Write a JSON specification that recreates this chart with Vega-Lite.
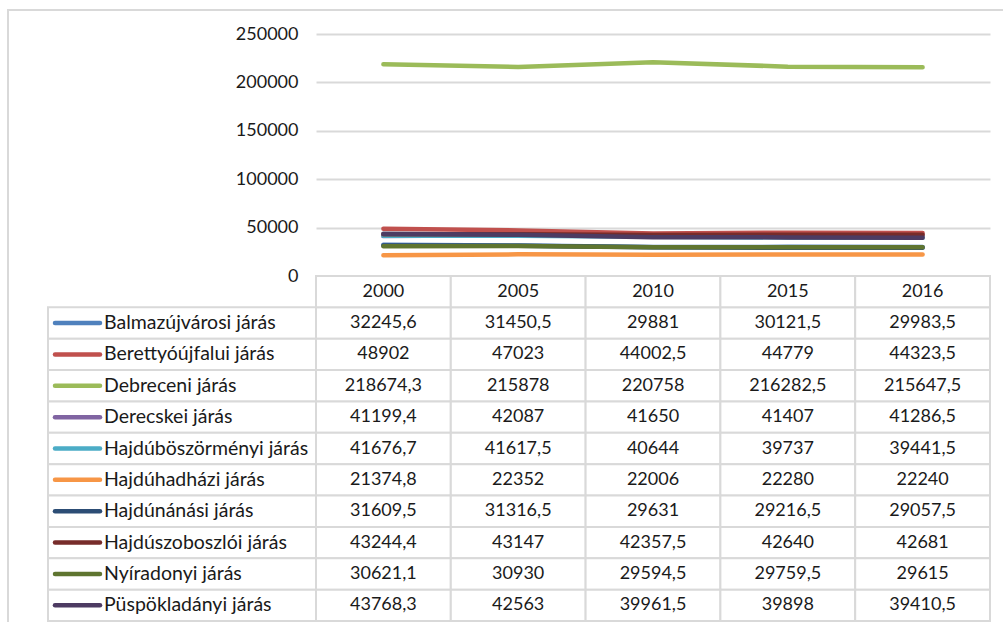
{
  "$schema": "https://vega.github.io/schema/vega-lite/v6.json",
  "background": "white",
  "padding": {"left": 7, "top": 9, "right": 0, "bottom": 0},
  "config": {
    "font": "Lato",
    "locale": {"number": {"decimal": ",", "thousands": "", "grouping": [3], "currency": ["", ""]}},
    "view": {"stroke": null},
    "text": {"fontSize": 18, "color": "#1a1a1a"}
  },
  "datasets": {
    "t": [
      {"district": "Balmazújvárosi járás", "year": "2000", "value": 32245.6},
      {"district": "Balmazújvárosi járás", "year": "2005", "value": 31450.5},
      {"district": "Balmazújvárosi járás", "year": "2010", "value": 29881},
      {"district": "Balmazújvárosi járás", "year": "2015", "value": 30121.5},
      {"district": "Balmazújvárosi járás", "year": "2016", "value": 29983.5},
      {"district": "Berettyóújfalui járás", "year": "2000", "value": 48902},
      {"district": "Berettyóújfalui járás", "year": "2005", "value": 47023},
      {"district": "Berettyóújfalui járás", "year": "2010", "value": 44002.5},
      {"district": "Berettyóújfalui járás", "year": "2015", "value": 44779},
      {"district": "Berettyóújfalui járás", "year": "2016", "value": 44323.5},
      {"district": "Debreceni járás", "year": "2000", "value": 218674.3},
      {"district": "Debreceni járás", "year": "2005", "value": 215878},
      {"district": "Debreceni járás", "year": "2010", "value": 220758},
      {"district": "Debreceni járás", "year": "2015", "value": 216282.5},
      {"district": "Debreceni járás", "year": "2016", "value": 215647.5},
      {"district": "Derecskei járás", "year": "2000", "value": 41199.4},
      {"district": "Derecskei járás", "year": "2005", "value": 42087},
      {"district": "Derecskei járás", "year": "2010", "value": 41650},
      {"district": "Derecskei járás", "year": "2015", "value": 41407},
      {"district": "Derecskei járás", "year": "2016", "value": 41286.5},
      {"district": "Hajdúböszörményi járás", "year": "2000", "value": 41676.7},
      {"district": "Hajdúböszörményi járás", "year": "2005", "value": 41617.5},
      {"district": "Hajdúböszörményi járás", "year": "2010", "value": 40644},
      {"district": "Hajdúböszörményi járás", "year": "2015", "value": 39737},
      {"district": "Hajdúböszörményi járás", "year": "2016", "value": 39441.5},
      {"district": "Hajdúhadházi járás", "year": "2000", "value": 21374.8},
      {"district": "Hajdúhadházi járás", "year": "2005", "value": 22352},
      {"district": "Hajdúhadházi járás", "year": "2010", "value": 22006},
      {"district": "Hajdúhadházi járás", "year": "2015", "value": 22280},
      {"district": "Hajdúhadházi járás", "year": "2016", "value": 22240},
      {"district": "Hajdúnánási járás", "year": "2000", "value": 31609.5},
      {"district": "Hajdúnánási járás", "year": "2005", "value": 31316.5},
      {"district": "Hajdúnánási járás", "year": "2010", "value": 29631},
      {"district": "Hajdúnánási járás", "year": "2015", "value": 29216.5},
      {"district": "Hajdúnánási járás", "year": "2016", "value": 29057.5},
      {"district": "Hajdúszoboszlói járás", "year": "2000", "value": 43244.4},
      {"district": "Hajdúszoboszlói járás", "year": "2005", "value": 43147},
      {"district": "Hajdúszoboszlói járás", "year": "2010", "value": 42357.5},
      {"district": "Hajdúszoboszlói járás", "year": "2015", "value": 42640},
      {"district": "Hajdúszoboszlói járás", "year": "2016", "value": 42681},
      {"district": "Nyíradonyi járás", "year": "2000", "value": 30621.1},
      {"district": "Nyíradonyi járás", "year": "2005", "value": 30930},
      {"district": "Nyíradonyi járás", "year": "2010", "value": 29594.5},
      {"district": "Nyíradonyi járás", "year": "2015", "value": 29759.5},
      {"district": "Nyíradonyi járás", "year": "2016", "value": 29615},
      {"district": "Püspökladányi járás", "year": "2000", "value": 43768.3},
      {"district": "Püspökladányi járás", "year": "2005", "value": 42563},
      {"district": "Püspökladányi járás", "year": "2010", "value": 39961.5},
      {"district": "Püspökladányi járás", "year": "2015", "value": 39898},
      {"district": "Püspökladányi járás", "year": "2016", "value": 39410.5}
    ]
  },
  "spacing": 0,
  "bounds": "flush",
  "hconcat": [
    {
      "width": 0.01,
      "height": 611,
      "view": {"stroke": "#D9D9D9", "strokeWidth": 2},
      "data": {"values": []},
      "mark": "point",
      "encoding": {}
    },
    {
      "spacing": 23,
      "bounds": "flush",
      "vconcat": [
        {
          "width": 994,
          "height": 0.01,
          "view": {"stroke": "#D9D9D9", "strokeWidth": 2},
          "data": {"values": []},
          "mark": "point",
          "encoding": {}
        },
        {
          "spacing": 38,
          "bounds": "flush",
          "hconcat": [
            {
              "width": 0.01,
              "height": 0.01,
              "data": {"values": []},
              "mark": "point",
              "encoding": {}
            },
            {
              "columns": 2,
              "spacing": 0,
              "bounds": "flush",
              "align": "each",
              "concat": [
                {
                  "width": 268,
                  "height": 242,
                  "data": {"values": []},
                  "mark": "point",
                  "encoding": {}
                },
                {
                  "width": 674,
                  "height": 242,
                  "data": {"name": "t"},
                  "mark": {"type": "line", "strokeWidth": 4.5, "strokeCap": "round", "strokeJoin": "round"},
                  "encoding": {
                    "x": {"field": "year", "type": "ordinal", "axis": null, "scale": {"type": "point", "padding": 0.5}},
                    "y": {
                      "field": "value", "type": "quantitative",
                      "scale": {"domain": [0, 250000], "nice": false},
                      "axis": {
                        "values": [0, 50000, 100000, 150000, 200000, 250000],
                        "format": "d", "title": null, "domain": false, "ticks": false,
                        "grid": true, "gridColor": "#D9D9D9", "gridWidth": 2,
                        "labelFontSize": 18, "labelColor": "#1a1a1a", "labelPadding": 18, "labelFont": "Lato"
                      }
                    },
                    "color": {
                      "field": "district", "type": "nominal", "legend": null,
                      "scale": {
                        "domain": ["Balmazújvárosi járás", "Berettyóújfalui járás", "Debreceni járás", "Derecskei járás", "Hajdúböszörményi járás", "Hajdúhadházi járás", "Hajdúnánási járás", "Hajdúszoboszlói járás", "Nyíradonyi járás", "Püspökladányi járás"],
                        "range": ["#4F81BD", "#C0504D", "#9BBB59", "#8064A2", "#4BACC6", "#F79646", "#2C4D75", "#772C2A", "#5F7530", "#4D3B62"]
                      }
                    }
                  }
                },
                {
                  "width": 268,
                  "height": 345,
                  "data": {"name": "t"},
                  "transform": [{"filter": "datum.year == '2000'"}],
                  "encoding": {
                    "y": {
                      "field": "district", "type": "nominal", "axis": null,
                      "scale": {
                        "type": "band", "paddingInner": 0, "paddingOuter": 0,
                        "domain": [" ", "Balmazújvárosi járás", "Berettyóújfalui járás", "Debreceni járás", "Derecskei járás", "Hajdúböszörményi járás", "Hajdúhadházi járás", "Hajdúnánási járás", "Hajdúszoboszlói járás", "Nyíradonyi járás", "Püspökladányi járás"]
                      }
                    }
                  },
                  "layer": [
                    {"mark": {"type": "rect", "fill": "white", "stroke": "#D9D9D9", "strokeWidth": 2}},
                    {
                      "mark": {"type": "rule", "strokeWidth": 4.5, "strokeCap": "round"},
                      "encoding": {
                        "x": {"datum": 7, "type": "quantitative", "scale": {"domain": [0, 268], "nice": false, "zero": false}, "axis": null},
                        "x2": {"datum": 52},
                        "color": {
                          "field": "district", "type": "nominal", "legend": null,
                          "scale": {
                            "domain": ["Balmazújvárosi járás", "Berettyóújfalui járás", "Debreceni járás", "Derecskei járás", "Hajdúböszörményi járás", "Hajdúhadházi járás", "Hajdúnánási járás", "Hajdúszoboszlói járás", "Nyíradonyi járás", "Püspökladányi járás"],
                            "range": ["#4F81BD", "#C0504D", "#9BBB59", "#8064A2", "#4BACC6", "#F79646", "#2C4D75", "#772C2A", "#5F7530", "#4D3B62"]
                          }
                        }
                      }
                    },
                    {
                      "mark": {"type": "text", "align": "left", "fontSize": 19.5},
                      "encoding": {
                        "x": {"datum": 56, "type": "quantitative"},
                        "text": {"field": "district", "type": "nominal"}
                      }
                    }
                  ]
                },
                {
                  "width": 674,
                  "height": 345,
                  "data": {"name": "t"},
                  "encoding": {
                    "x": {"field": "year", "type": "ordinal", "axis": null, "scale": {"type": "band", "paddingInner": 0, "paddingOuter": 0}},
                    "y": {
                      "field": "district", "type": "nominal", "axis": null,
                      "scale": {
                        "type": "band", "paddingInner": 0, "paddingOuter": 0,
                        "domain": [" ", "Balmazújvárosi járás", "Berettyóújfalui járás", "Debreceni járás", "Derecskei járás", "Hajdúböszörményi járás", "Hajdúhadházi járás", "Hajdúnánási járás", "Hajdúszoboszlói járás", "Nyíradonyi járás", "Püspökladányi járás"]
                      }
                    }
                  },
                  "layer": [
                    {"mark": {"type": "rect", "fill": "white", "stroke": "#D9D9D9", "strokeWidth": 2}},
                    {"mark": {"type": "text"}, "encoding": {"text": {"field": "value", "type": "quantitative", "format": "~f"}}},
                    {
                      "transform": [{"aggregate": [{"op": "count", "as": "n"}], "groupby": ["year"]}],
                      "mark": {"type": "rect", "fill": "white", "stroke": "#D9D9D9", "strokeWidth": 2},
                      "encoding": {"y": {"datum": " ", "type": "nominal"}}
                    },
                    {
                      "transform": [{"aggregate": [{"op": "count", "as": "n"}], "groupby": ["year"]}],
                      "mark": {"type": "text"},
                      "encoding": {"y": {"datum": " ", "type": "nominal"}, "text": {"field": "year", "type": "nominal"}}
                    }
                  ]
                }
              ]
            }
          ]
        }
      ]
    }
  ]
}
